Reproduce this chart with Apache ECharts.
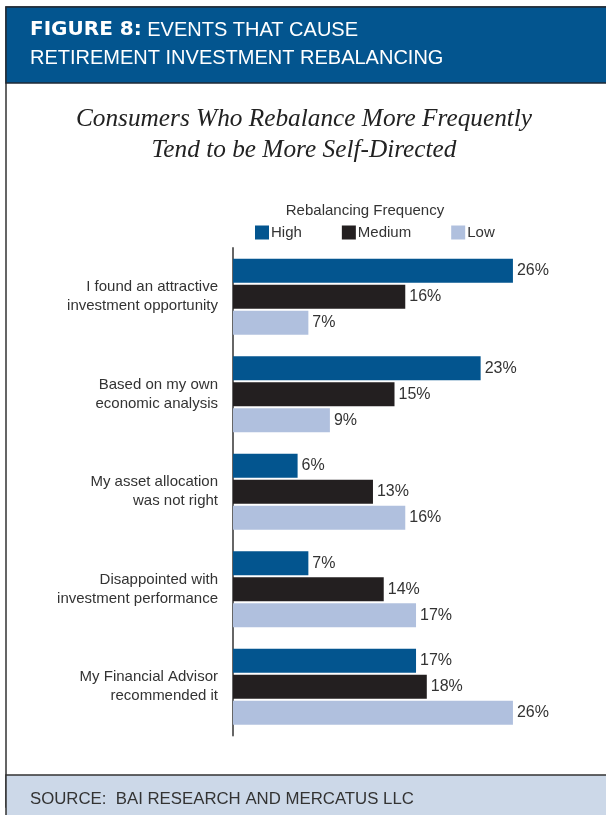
<!DOCTYPE html>
<html>
<head>
<meta charset="utf-8">
<script src="https://cdn.jsdelivr.net/npm/echarts@6/dist/echarts.min.js"></script>
<style>
html,body{margin:0;padding:0;background:#fff;}
#c{width:606px;height:815px;}
</style>
</head>
<body>
<div id="c"></div>
<script>
var categories = [
  "I found an attractive\ninvestment opportunity",
  "Based on my own\neconomic analysis",
  "My asset allocation\nwas not right",
  "Disappointed with\ninvestment performance",
  "My Financial Advisor\nrecommended it"
];
var seriesNames = ["High", "Medium", "Low"];
var highValues = [26, 23, 6, 7, 17];
var mediumValues = [16, 15, 13, 14, 18];
var lowValues = [7, 9, 16, 17, 26];

var headerBold = "FIGURE 8:";
var headerRest = " EVENTS THAT CAUSE";
var headerLine2 = "RETIREMENT INVESTMENT REBALANCING";
var subtitle = "Consumers Who Rebalance More Frequently\nTend to be More Self-Directed";
var legendTitle = "Rebalancing Frequency";
var sourceText = "SOURCE:  BAI RESEARCH AND MERCATUS LLC";

var colors = ["#03558f", "#231f20", "#b0c0de"];
var sans = "'Liberation Sans',Arial,sans-serif";

var chart = echarts.init(document.getElementById('c'), null, {renderer: 'canvas'});

function mkSeries(name, data, i) {
  return {
    name: name,
    type: 'bar',
    data: data,
    barWidth: 24,
    barGap: '8%',
    itemStyle: {color: colors[i]},
    label: {
      show: true, position: 'right', distance: 4,
      formatter: '{c}%', fontFamily: sans, fontSize: 16, color: '#333'
    },
    silent: true,
    animation: false
  };
}

chart.setOption({
  animation: false,
  color: colors,
  graphic: [
    {type: 'rect', shape: {x: 6, y: 7, width: 602, height: 800}, style: {fill: '#fff', stroke: '#333', lineWidth: 1.5}, z: -10},
    {type: 'rect', shape: {x: 6, y: 7, width: 602, height: 76}, style: {fill: '#03558f', stroke: '#1f2a36', lineWidth: 1.5}, z: -5},
    {type: 'rect', shape: {x: 6, y: 775, width: 602, height: 42}, style: {fill: '#ccd8e8', stroke: '#333', lineWidth: 1.5}, z: -5},
    {type: 'text', left: 30, top: 20, style: {
      text: '{b|' + headerBold + '}{r|' + headerRest + '}',
      rich: {
        b: {fontFamily: "'DejaVu Sans',sans-serif", fontWeight: 'bold', fontSize: 20, fill: '#fff'},
        r: {fontFamily: sans, fontSize: 20, fill: '#fff'}
      }
    }},
    {type: 'text', left: 30, top: 48, style: {text: headerLine2, fontFamily: sans, fontSize: 20, fill: '#fff'}},
    {type: 'text', left: 30, top: 791, style: {text: sourceText, fontFamily: sans, fontSize: 16.8, fill: '#333'}}
  ],
  title: [
    {text: subtitle, left: 299, top: 99, textAlign: 'center',
     textStyle: {fontFamily: "'Liberation Serif','Times New Roman',serif", fontStyle: 'italic', fontWeight: 'normal', fontSize: 25.3, color: '#222', lineHeight: 31}},
    {text: legendTitle, left: 360, top: 198, textAlign: 'center',
     textStyle: {fontFamily: sans, fontWeight: 'normal', fontSize: 15, color: '#333'}}
  ],
  legend: {
    data: seriesNames,
    left: 255, top: 225, padding: 0,
    itemWidth: 14, itemHeight: 14, itemGap: 40,
    icon: 'rect',
    textStyle: {fontFamily: sans, fontSize: 15, color: '#333', padding: [0, 0, 0, -3]},
    selectedMode: false
  },
  grid: {left: 233, top: 248, width: 323, height: 487.5, containLabel: false},
  xAxis: {type: 'value', min: 0, max: 30, show: false},
  yAxis: {
    type: 'category', data: categories, inverse: true,
    axisLine: {show: true, lineStyle: {color: '#666', width: 2}},
    axisTick: {show: false},
    axisLabel: {margin: 15, fontFamily: sans, fontSize: 15, color: '#333', lineHeight: 19, align: 'right'}
  },
  series: [
    mkSeries(seriesNames[0], highValues, 0),
    mkSeries(seriesNames[1], mediumValues, 1),
    mkSeries(seriesNames[2], lowValues, 2)
  ]
});
</script>
</body>
</html>
